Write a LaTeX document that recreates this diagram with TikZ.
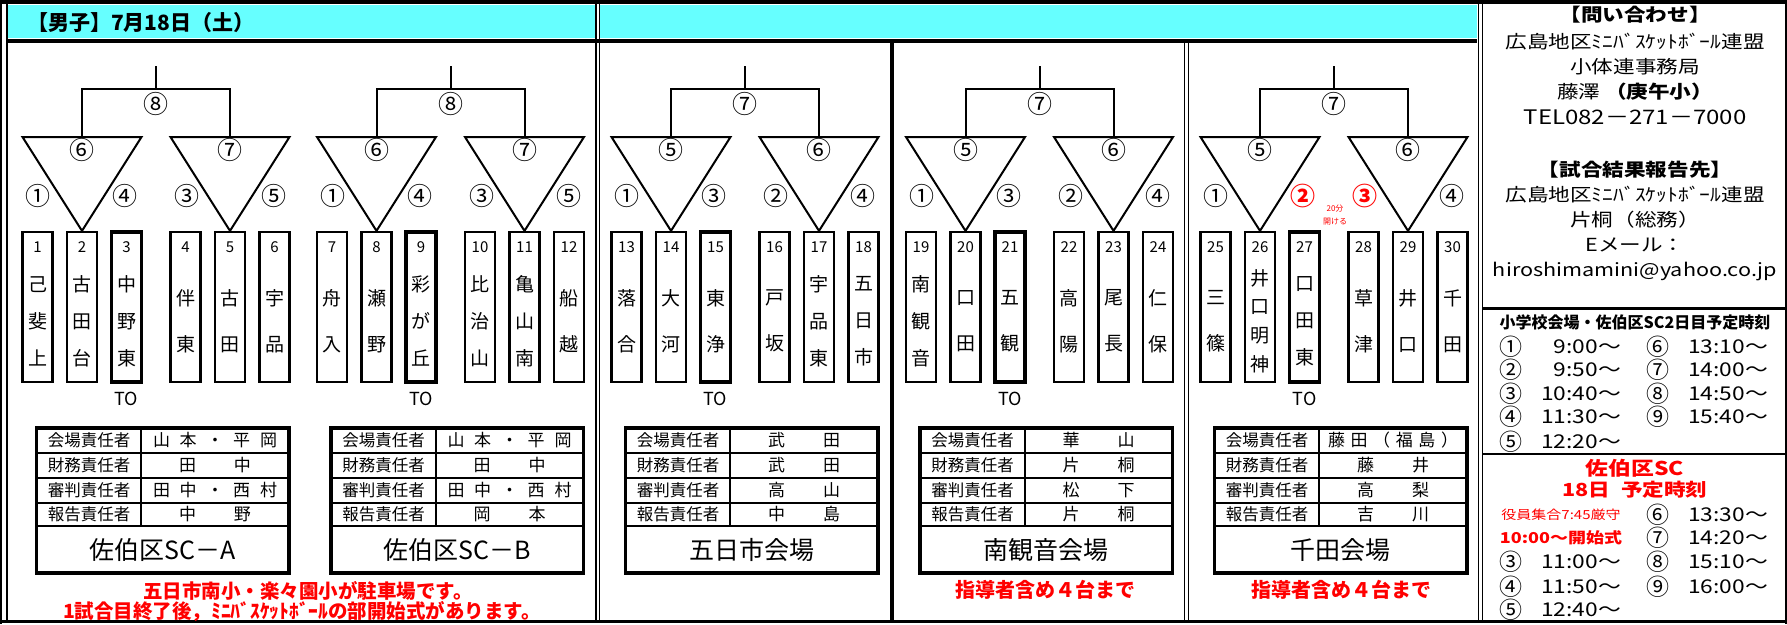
\documentclass[tikz,border=0pt]{standalone}
\usepackage{fontspec}
\setmainfont{Noto Sans CJK JP}
\newfontfamily\widejp[FakeStretch=1.2]{Noto Sans CJK JP}
\usepackage{tikz}
\usetikzlibrary{positioning}
\newcommand{\fsz}[1]{\fontsize{#1}{#1}\selectfont}
\newcommand{\spread}[2]{\makebox[#1][s]{#2}}
\definecolor{headcyan}{RGB}{102,255,255}
\tikzset{
	teambox/.style={rectangle, draw=black, line width=2.3pt, minimum width=30pt, minimum height=150pt, inner sep=0pt},
	tobox/.style={teambox, line width=3.4pt},
	teamnum/.style={inner sep=0pt, font=\fsz{15}},
	teamname/.style={inner sep=0pt, align=center},
	circ/.style={inner sep=0pt, font=\fsz{25}},
	tolabel/.style={inner sep=0pt, font=\fsz{18}},
	bracket/.style={line width=2pt},
	tableframe/.style={line width=3.2pt},
	tablerule/.style={line width=2pt},
	dutylabel/.style={inner sep=0pt, font=\fsz{16.5}},
	dutyvalue/.style={inner sep=0pt, font=\fsz{17}},
	venue/.style={inner sep=0pt, font=\fsz{25}},
	rednote/.style={inner sep=0pt, font=\bfseries\fsz{19.5}, text=red},
	infohead/.style={inner sep=0pt, font=\widejp\bfseries\fsz{18}},
	infotext/.style={inner sep=0pt, font=\widejp\fsz{18}},
	schedtext/.style={inner sep=0pt, font=\widejp\fsz{19}},
	schedcirc/.style={inner sep=0pt, font=\fsz{23}},
	sep/.style={line width=1.5pt}
}
% one team: name, x, number, letters, line skip, box style
\newcommand{\teamslot}[6]{%
	\node[#6] (#1) at (#2,307) {};
	\node[teamnum] (#1num) at (#2,247) {#3};
	\node[teamname, font=\fontsize{19}{#5}\selectfont] (#1name) at (#2,321) {#4};
}
% duty table under one bracket
\newcommand{\dutytable}[7]{%
	\draw[tableframe] (#2-119.5,428) rectangle (#2+133,573);
	\draw[tablerule] (#2-119.5,453) -- (#2+133,453) (#2-119.5,478) -- (#2+133,478)
		(#2-119.5,503) -- (#2+133,503) (#2-119.5,526) -- (#2+133,526)
		(#2-15,428) -- (#2-15,526);
	\node[dutylabel] (#1r1) at (#2-67,440.5) {会場責任者};
	\node[dutylabel] (#1r2) at (#2-67,465.5) {財務責任者};
	\node[dutylabel] (#1r3) at (#2-67,490.5) {審判責任者};
	\node[dutylabel] (#1r4) at (#2-67,514.5) {報告責任者};
	\node[dutyvalue] (#1v1) at (#2+59,440.5) {#3};
	\node[dutyvalue] (#1v2) at (#2+59,465.5) {#4};
	\node[dutyvalue] (#1v3) at (#2+59,490.5) {#5};
	\node[dutyvalue] (#1v4) at (#2+59,514.5) {#6};
	\node[venue] (#1name) at (#2+6.75,550) {#7};
}

\begin{document}
\begin{tikzpicture}[x=1pt,y=-1pt]
	\useasboundingbox (0,0) rectangle (1787,624);
	
	% Cabecalho
	\fill[headcyan] (8,5) rectangle (595,38);
	\fill[headcyan] (600,5) rectangle (1477,38);
	\draw[line width=4pt] (0,2) -- (1787,2);
	\draw[line width=4pt] (8,40.5) -- (1477,40.5);
	\node[inner sep=0pt, anchor=west, font=\bfseries\fsz{21}] (title) at (27,23) {【男子】7月18日（土）};
	
	% Divisorias
	\draw[line width=2pt] (1,0) -- (1,624);
	\draw[line width=2.5pt] (7,4) -- (7,620);
	\draw[sep] (596,4) -- (596,620);
	\draw[sep] (599.5,4) -- (599.5,620);
	\draw[line width=4pt] (892,40) -- (892,620);
	\draw[sep] (1184.5,40) -- (1184.5,620);
	\draw[sep] (1188.5,40) -- (1188.5,620);
	\draw[sep] (1478.5,4) -- (1478.5,620);
	\draw[sep] (1482.5,4) -- (1482.5,620);
	\draw[line width=3pt] (1482,308) -- (1787,308);
	\draw[line width=2pt] (1482,454) -- (1787,454);
	\draw[line width=3pt] (0,621.5) -- (1787,621.5);
	\draw[line width=2pt] (1786,0) -- (1786,624);
	
	% Equipes
	\teamslot{t1}{37.5}{1}{己\\斐\\上}{37}{teambox}
	\teamslot{t2}{82}{2}{古\\田\\台}{37}{teambox}
	\teamslot{t3}{126.5}{3}{中\\野\\東}{37}{tobox}
	\teamslot{t4}{185.5}{4}{伴\\東}{46}{teambox}
	\teamslot{t5}{230}{5}{古\\田}{46}{teambox}
	\teamslot{t6}{274.5}{6}{宇\\品}{46}{teambox}
	\teamslot{t7}{332}{7}{舟\\入}{46}{teambox}
	\teamslot{t8}{376.5}{8}{瀬\\野}{46}{teambox}
	\teamslot{t9}{421}{9}{彩\\が\\丘}{37}{tobox}
	\teamslot{t10}{480}{10}{比\\治\\山}{37}{teambox}
	\teamslot{t11}{524.5}{11}{亀\\山\\南}{37}{teambox}
	\teamslot{t12}{569}{12}{船\\越}{46}{teambox}
	\teamslot{t13}{626.5}{13}{落\\合}{46}{teambox}
	\teamslot{t14}{671}{14}{大\\河}{46}{teambox}
	\teamslot{t15}{715.5}{15}{東\\浄}{46}{tobox}
	\teamslot{t16}{774.5}{16}{戸\\坂}{46}{teambox}
	\teamslot{t17}{819}{17}{宇\\品\\東}{37}{teambox}
	\teamslot{t18}{863.5}{18}{五\\日\\市}{37}{teambox}
	\teamslot{t19}{921}{19}{南\\観\\音}{37}{teambox}
	\teamslot{t20}{965.5}{20}{口\\田}{46}{teambox}
	\teamslot{t21}{1010}{21}{五\\観}{46}{tobox}
	\teamslot{t22}{1069}{22}{高\\陽}{46}{teambox}
	\teamslot{t23}{1113.5}{23}{尾\\長}{46}{teambox}
	\teamslot{t24}{1158}{24}{仁\\保}{46}{teambox}
	\teamslot{t25}{1215.5}{25}{三\\篠}{46}{teambox}
	\teamslot{t26}{1260}{26}{井\\口\\明\\神}{28.7}{teambox}
	\teamslot{t27}{1304.5}{27}{口\\田\\東}{37}{tobox}
	\teamslot{t28}{1363.5}{28}{草\\津}{46}{teambox}
	\teamslot{t29}{1408}{29}{井\\口}{46}{teambox}
	\teamslot{t30}{1452.5}{30}{千\\田}{46}{teambox}
	
	% Chaves
	\foreach \S/\fin/\ml/\mr/\sa/\sb/\sc/\sd [count=\k] in {
		156/⑧/⑥/⑦/①/④/③/⑤,
		450.5/⑧/⑥/⑦/①/④/③/⑤,
		745/⑦/⑤/⑥/①/③/②/④,
		1039.5/⑦/⑤/⑥/①/③/②/④,
		1334/⑦/⑤/⑥/①/{\textcolor{red}{\bfseries ②}}/{\textcolor{red}{\bfseries ③}}/④}{
		\pgfmathtruncatemacro\ia{6*\k-4}
		\pgfmathtruncatemacro\ib{6*\k-1}
		\pgfmathtruncatemacro\ic{6*\k-3}
		\coordinate (stem\k) at (\S,66);
		\draw[bracket] (stem\k) -- (\S,89);
		\draw[bracket] (\S-74,137) -- (\S-74,89) -- (\S+74,89) -- (\S+74,137);
		\draw[bracket] (\S-133.5,137) -- (\S-14.5,137) -- (t\ia.north) -- cycle;
		\draw[bracket] (\S+14.5,137) -- (\S+133.5,137) -- (t\ib.north) -- cycle;
		\node[circ] (fin\k) at (\S,104) {\fin};
		\node[circ] (ml\k) at (\S-74,150) {\ml};
		\node[circ] (mr\k) at (\S+74,150) {\mr};
		\node[circ] (sa\k) at (\S-118,196) {\sa};
		\node[circ] (sb\k) at (\S-31,196) {\sb};
		\node[circ] (sc\k) at (\S+31,196) {\sc};
		\node[circ] (sd\k) at (\S+118,196) {\sd};
		\node[tolabel, below=8pt of t\ic] (to\k) {TO};
	}
	\node[inner sep=0pt, font=\fsz{8}, text=red] (gap1) at (1335,209) {20分};
	\node[inner sep=0pt, font=\fsz{8}, text=red] (gap2) at (1335,222) {開ける};
	
	% Tabelas
	\dutytable{ta}{156}{\spread{124pt}{山\hfill 本\hfill ・\hfill 平\hfill 岡}}{\spread{72pt}{田\hfill 中}}{\spread{124pt}{田\hfill 中\hfill ・\hfill 西\hfill 村}}{\spread{72pt}{中\hfill 野}}{佐伯区SC－A}
	\dutytable{tb}{450.5}{\spread{124pt}{山\hfill 本\hfill ・\hfill 平\hfill 岡}}{\spread{72pt}{田\hfill 中}}{\spread{124pt}{田\hfill 中\hfill ・\hfill 西\hfill 村}}{\spread{72pt}{岡\hfill 本}}{佐伯区SC－B}
	\dutytable{tc}{745}{\spread{72pt}{武\hfill 田}}{\spread{72pt}{武\hfill 田}}{\spread{72pt}{高\hfill 山}}{\spread{72pt}{中\hfill 島}}{五日市会場}
	\dutytable{td}{1039.5}{\spread{72pt}{華\hfill 山}}{\spread{72pt}{片\hfill 桐}}{\spread{72pt}{松\hfill 下}}{\spread{72pt}{片\hfill 桐}}{南観音会場}
	\dutytable{te}{1334}{\spread{130pt}{藤\hfill 田\hfill （\hfill 福\hfill 島\hfill ）}}{\spread{72pt}{藤\hfill 井}}{\spread{72pt}{高\hfill 梨}}{\spread{72pt}{吉\hfill 川}}{千田会場}
	
	% Avisos
	\node[rednote] (park) at (308,591) {五日市南小・楽々園小が駐車場です。};
	\node[rednote] (open) at (302,611) {1試合目終了後，ﾐﾆﾊﾞｽｹｯﾄﾎﾞｰﾙの部開始式があります。};
	\node[rednote, font=\bfseries\fsz{20}] (carsd) at (1045,590) {指導者含め４台まで};
	\node[rednote, font=\bfseries\fsz{20}] (carse) at (1341,590) {指導者含め４台まで};
	
	% Contato
	\node[infohead] (askhead) at (1635,15) {【問い合わせ】};
	\node[infotext] (ask1) at (1635,42) {広島地区ﾐﾆﾊﾞｽｹｯﾄﾎﾞｰﾙ連盟};
	\node[infotext] (ask2) at (1635,67) {小体連事務局};
	\node[infotext] (ask3) at (1635,92) {藤澤 {\bfseries （庚午小）}};
	\node[infotext, font=\widejp\fsz{20}] (ask4) at (1635,117) {TEL082－271－7000};
	\node[infohead] (rephead) at (1635,170) {【試合結果報告先】};
	\node[infotext] (rep1) at (1635,195) {広島地区ﾐﾆﾊﾞｽｹｯﾄﾎﾞｰﾙ連盟};
	\node[infotext] (rep2) at (1635,220) {片桐（総務）};
	\node[infotext] (rep3) at (1635,245) {Eメール：};
	\node[infotext] (rep4) at (1635,272) {hiroshimamini@yahoo.co.jp};
	
	% Horarios
	\node[inner sep=0pt, font=\bfseries\fsz{16}] (schedhead) at (1635,322) {小学校会場・佐伯区SC2日目予定時刻};
	\foreach \yy/\ca/\ta/\cb/\tb [count=\r] in {347/①/9:00〜/⑥/13:10〜, 370/②/9:50〜/⑦/14:00〜,
		394/③/10:40〜/⑧/14:50〜, 417/④/11:30〜/⑨/15:40〜}{
		\node[schedcirc] (ca\r) at (1511,\yy) {\ca};
		\node[schedtext, anchor=east] (ta\r) at (1621,\yy) {\ta};
		\node[schedcirc] (cb\r) at (1658,\yy) {\cb};
		\node[schedtext, anchor=east] (tb\r) at (1768,\yy) {\tb};
	}
	\node[schedcirc] (ca5) at (1511,442) {⑤};
	\node[schedtext, anchor=east] (ta5) at (1621,442) {12:20〜};
	
	% Sabado
	\node[inner sep=0pt, font=\widejp\bfseries\fsz{19}, text=red] (sca) at (1635,468) {佐伯区SC};
	\node[inner sep=0pt, font=\widejp\bfseries\fsz{18}, text=red] (scb) at (1635,490) {18日\hspace{0.6em}予定時刻};
	\node[inner sep=0pt, font=\widejp\fsz{12.5}, text=red] (gather) at (1561,515) {役員集合7:45厳守};
	\node[inner sep=0pt, font=\widejp\bfseries\fsz{15}, text=red] (opening) at (1561,538) {10:00〜開始式};
	\foreach \yy/\cb/\tb [count=\r] in {515/⑥/13:30〜, 538/⑦/14:20〜, 562/⑧/15:10〜, 587/⑨/16:00〜}{
		\node[schedcirc] (sb\r) at (1658,\yy) {\cb};
		\node[schedtext, anchor=east] (tsb\r) at (1768,\yy) {\tb};
	}
	\foreach \yy/\ca/\ta [count=\r] in {562/③/11:00〜, 587/④/11:50〜, 610/⑤/12:40〜}{
		\node[schedcirc] (sa\r) at (1511,\yy) {\ca};
		\node[schedtext, anchor=east] (tsa\r) at (1621,\yy) {\ta};
	}
\end{tikzpicture}
\end{document}
